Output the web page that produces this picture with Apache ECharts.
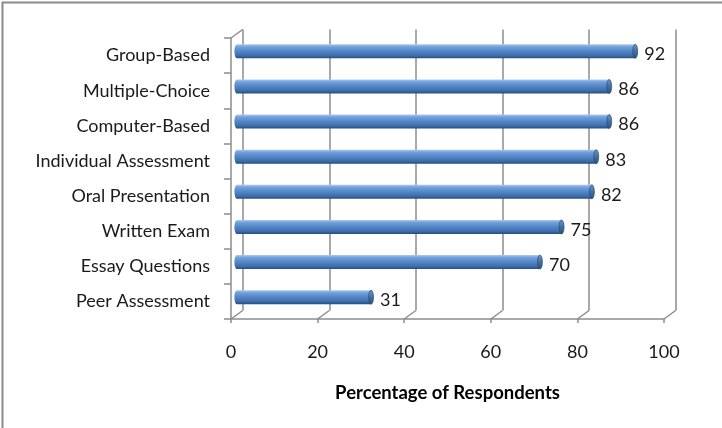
<!DOCTYPE html>
<html>
<head>
<meta charset="utf-8">
<script src="https://cdn.jsdelivr.net/npm/echarts@6/dist/echarts.min.js"></script>
<style>
  html, body { margin: 0; padding: 0; background: #fff; }
  #chart { width: 722px; height: 428px; }
</style>
</head>
<body>
<div id="chart"></div>
<script>
// Assessment types, top to bottom
const categories = [
  'Group-Based', 'Multiple-Choice', 'Computer-Based', 'Individual Assessment',
  'Oral Presentation', 'Written Exam', 'Essay Questions', 'Peer Assessment'
];
// Percentage of respondents for each assessment type
const values = [92, 86, 86, 83, 82, 75, 70, 31];
// Value-axis ticks
const xTicks = [0, 20, 40, 60, 80, 100];
const axisTitle = 'Percentage of Respondents';

// Plot box (front plane) and the depth offset of the 3D walls
const PLOT = { left: 231, top: 38, width: 433, height: 281 };
const DX = 11.7, DY = -8.5;
const FONT = 'Lato';
const FS = 18;
const AXIS_COLOR = '#8c8c8c';

const chart = echarts.init(document.getElementById('chart'), null, { renderer: 'canvas' });

function gridAt(f) {
  return {
    left: PLOT.left + DX * f,
    top: PLOT.top + DY * f,
    width: PLOT.width,
    height: PLOT.height,
    containLabel: false
  };
}

const valueAxisBase = { type: 'value', min: 0, max: 100, interval: 20 };

const option = {
  animation: false,
  backgroundColor: '#ffffff',
  graphic: [
    // outer chart border
    {
      type: 'rect',
      shape: { x: 2.5, y: 2.5, width: 740, height: 440 },
      style: { fill: 'none', stroke: '#8a8a8a', lineWidth: 2 },
      silent: true
    }
  ],
  grid: [gridAt(0), gridAt(1), gridAt(0.5)],
  xAxis: [
    // front plane: axis line, ticks, labels, title
    Object.assign({}, valueAxisBase, {
      gridIndex: 0,
      axisLine: { show: true, lineStyle: { color: AXIS_COLOR, width: 1.5 } },
      axisTick: { show: true, length: 4, lineStyle: { color: AXIS_COLOR, width: 1.5 } },
      axisLabel: { margin: 24, fontFamily: FONT, fontSize: FS, color: '#1a1a1a' },
      splitLine: { show: false },
      name: axisTitle,
      nameLocation: 'middle',
      nameGap: 65,
      nameTextStyle: { fontFamily: FONT, fontSize: 18.5, fontWeight: 'bold', color: '#000' }
    }),
    // back wall: vertical gridlines
    Object.assign({}, valueAxisBase, {
      gridIndex: 1,
      axisLine: { show: false },
      axisTick: { show: false },
      axisLabel: { show: false },
      splitLine: { show: true, lineStyle: { color: AXIS_COLOR, width: 1.5 } }
    }),
    // middle plane: bars
    Object.assign({}, valueAxisBase, {
      gridIndex: 2,
      show: false
    })
  ],
  yAxis: [
    {
      type: 'category', gridIndex: 0, data: categories, inverse: true,
      axisLine: { show: true, lineStyle: { color: AXIS_COLOR, width: 1.5 } },
      axisTick: { show: true, length: 7, lineStyle: { color: AXIS_COLOR, width: 1.5 } },
      axisLabel: { margin: 21, fontFamily: FONT, fontSize: FS, color: '#1a1a1a' },
      splitLine: { show: false }
    },
    { type: 'category', gridIndex: 1, data: categories, inverse: true, show: false },
    { type: 'category', gridIndex: 2, data: categories, inverse: true, show: false }
  ],
  series: [
    // diagonal edges joining the front floor ticks to the back wall
    {
      type: 'custom',
      xAxisIndex: 0, yAxisIndex: 0,
      silent: true, z: 1,
      data: xTicks.map(function (t) { return [t]; }),
      renderItem: function (params, api) {
        const cs = params.coordSys;
        const x = api.coord([api.value(0), 0])[0];
        const yb = cs.y + cs.height;
        const children = [{
          type: 'line',
          shape: { x1: x, y1: yb, x2: x + DX, y2: yb + DY },
          style: { stroke: AXIS_COLOR, lineWidth: 1.5 }
        }];
        if (params.dataIndex === 0) {
          // top edge of the left wall
          children.push({
            type: 'line',
            shape: { x1: x, y1: cs.y, x2: x + DX, y2: cs.y + DY },
            style: { stroke: AXIS_COLOR, lineWidth: 1.5 }
          });
        }
        return { type: 'group', children: children };
      },
      encode: { x: 0 }
    },
    // cylinders
    {
      type: 'custom',
      xAxisIndex: 2, yAxisIndex: 2,
      z: 5,
      data: values.map(function (v, i) { return [v, i]; }),
      renderItem: function (params, api) {
        const v = api.value(0);
        const idx = api.value(1);
        const p0 = api.coord([0, idx]);
        const p1 = api.coord([v, idx]);
        const band = api.size([0, 1])[1];
        const h = band * 0.4;
        const r = h / 2;
        const cy = p0[1];
        const x0 = p0[0];
        const x1 = p1[0];
        const body = new echarts.graphic.LinearGradient(0, 0, 0, 1, [
          { offset: 0, color: '#aecaf0' },
          { offset: 0.18, color: '#72a0db' },
          { offset: 0.5, color: '#5286c8' },
          { offset: 0.82, color: '#3d6ca8' },
          { offset: 1, color: '#254c7c' }
        ]);
        const cap = new echarts.graphic.LinearGradient(0, 0, 0, 1, [
          { offset: 0, color: '#6f97cc' },
          { offset: 0.5, color: '#41709f' },
          { offset: 1, color: '#2a4f7c' }
        ]);
        return {
          type: 'group',
          children: [
            {
              type: 'circle',
              shape: { cx: 0, cy: 0, r: r },
              x: x0, y: cy, scaleX: 0.35,
              style: { fill: body }
            },
            {
              type: 'rect',
              shape: { x: x0, y: cy - r, width: x1 - x0, height: h },
              style: { fill: body }
            },
            {
              type: 'circle',
              shape: { cx: 0, cy: 0, r: r },
              x: x1, y: cy, scaleX: 0.35,
              style: { fill: cap, stroke: '#2a4a72', lineWidth: 1 }
            },
            {
              type: 'text',
              x: x1 + 9, y: cy + 3,
              style: {
                text: String(v),
                fontFamily: FONT, fontSize: FS, fill: '#1a1a1a',
                verticalAlign: 'middle', align: 'left'
              }
            }
          ]
        };
      },
      encode: { x: 0, y: 1 }
    }
  ]
};

chart.setOption(option);
</script>
</body>
</html>
